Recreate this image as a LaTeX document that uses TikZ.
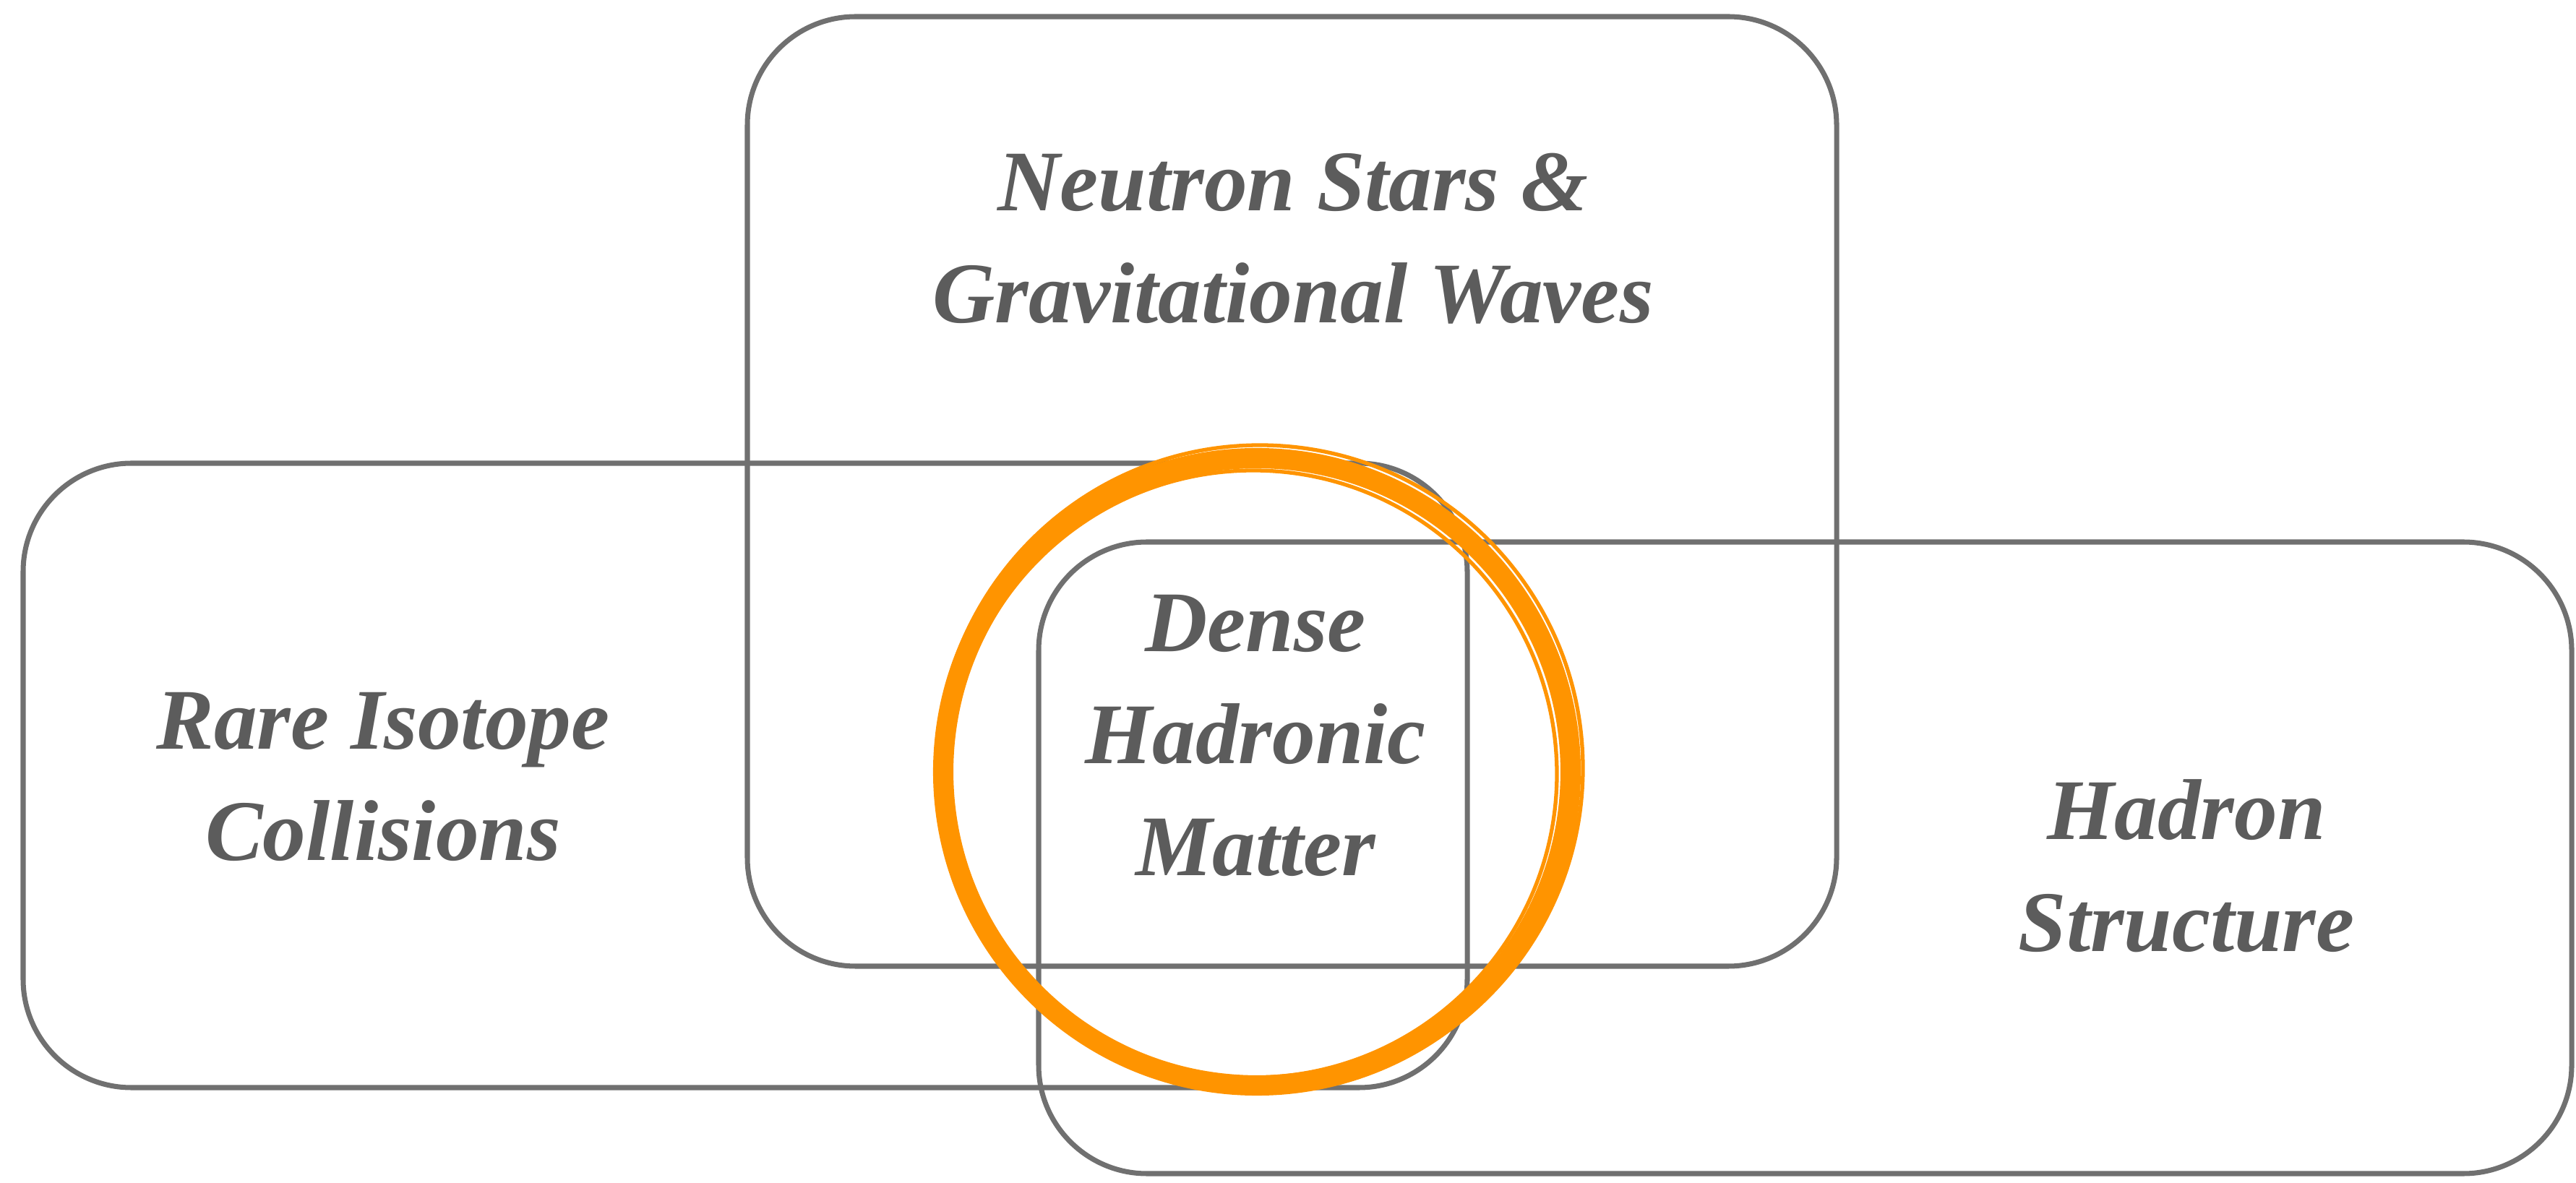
\documentclass[tikz,border=0pt]{standalone}
\usepackage{fontspec}
\setmainfont{Liberation Serif}
\usetikzlibrary{calc, positioning}
\definecolor{boxgray}{RGB}{112,112,112}
\definecolor{textgray}{RGB}{92,92,92}
\definecolor{hotorange}{RGB}{255,148,0}

\begin{document}
\begin{tikzpicture}[
    areabox/.style={draw=boxgray, line width=2pt, rounded corners=1.5cm},
    areatext/.style={text=textgray, align=center,
      font=\fontsize{34}{44}\selectfont\bfseries\itshape}
  ]
  \useasboundingbox (0,0) rectangle (35.64,16.36);

  % the three fields
  \coordinate (ns-sw) at (10.34,2.99);
  \coordinate (ns-ne) at (25.41,16.13);
  \draw[areabox] (ns-sw) rectangle (ns-ne);

  \coordinate (ri-sw) at (0.32,1.31);
  \coordinate (ri-ne) at (20.30,9.95);
  \draw[areabox] (ri-sw) rectangle (ri-ne);

  \coordinate (hs-sw) at (14.37,0.12);
  \coordinate (hs-ne) at (35.58,8.86);
  \draw[areabox] (hs-sw) rectangle (hs-ne);

  \node[areatext] (neutron) at (17.89,13.06) {Neutron Stars \&\\Gravitational Waves};
  \node[areatext] (isotope) at (5.30,5.61) {Rare Isotope\\Collisions};
  \node[areatext] (hadron) at (30.25,4.38) {Hadron\\Structure};

  % overlap
  \coordinate (dense-c) at (17.39,5.68);
  \draw[hotorange, line width=8pt] (dense-c) circle (4.34);
  \draw[hotorange, line width=1.5pt] ($(dense-c)+(0.04,0.05)$) circle (4.47);
  \draw[hotorange, line width=1.5pt] ($(dense-c)+(-0.05,-0.03)$) circle (4.20);
  \node[areatext] (dense) at (17.37,6.18) {Dense\\Hadronic\\Matter};
\end{tikzpicture}
\end{document}
